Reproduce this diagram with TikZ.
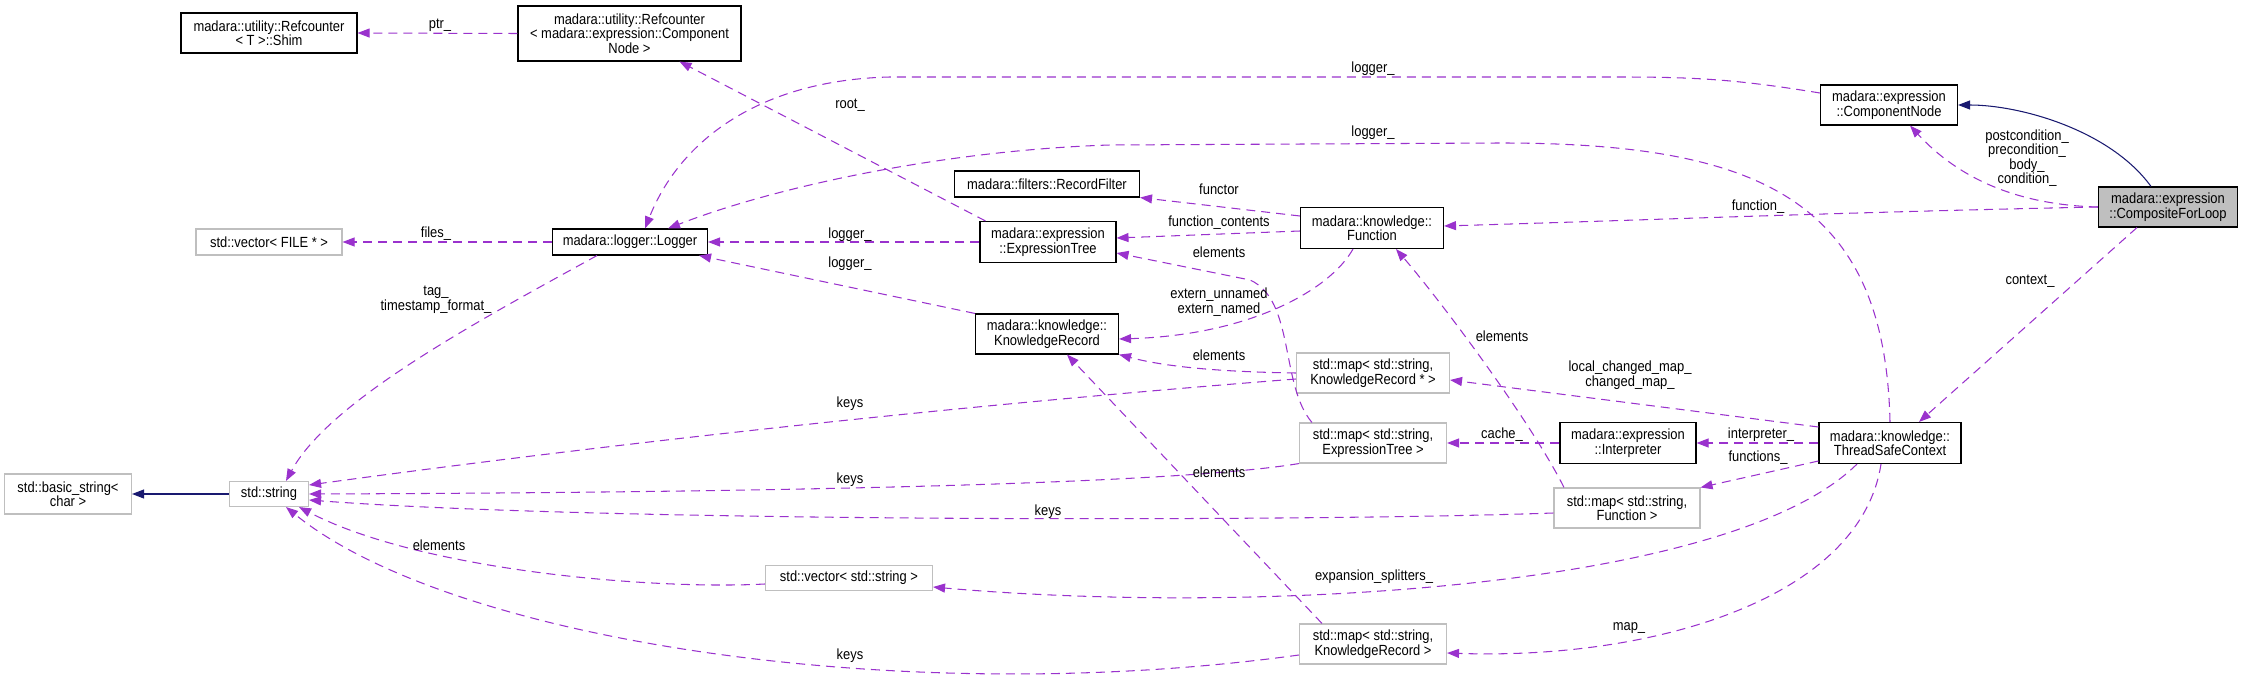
\documentclass[tikz,border=0pt]{standalone}
\usepackage{fontspec}
\setmainfont{Liberation Sans}[FakeStretch=0.88]
\usetikzlibrary{arrows.meta}

\definecolor{usecol}{HTML}{9A32CD}
\definecolor{inhcol}{HTML}{191970}
\definecolor{extcol}{HTML}{BFBFBF}

\begin{document}
\begin{tikzpicture}[x=1pt,y=-1pt,
  every node/.style={font=\fontsize{14.7}{14.5}\selectfont,align=center,inner sep=0pt},
  cls/.style={draw=black,line width=1.1pt,fill=white,minimum height=40pt},
  ext/.style={draw=extcol,line width=1.1pt,fill=white,minimum height=40pt},
  use/.style={-{Triangle[length=12pt,width=9pt]},usecol,line width=1.05pt,dash pattern=on 9pt off 6pt},
  inh/.style={-{Triangle[length=12pt,width=9pt]},inhcol,line width=1.05pt}]
  \useasboundingbox (0,0) rectangle (2244,679);

  % classes
  \node[cls,minimum width=176pt] (shim) at (269,33) {madara::utility::Refcounter\\< T >::Shim};
  \node[cls,minimum width=223pt,minimum height=55pt] (refcn) at (629.5,33.5) {madara::utility::Refcounter\\< madara::expression::Component\\Node >};
  \node[ext,minimum width=146pt,minimum height=26pt] (vecfile) at (269,242) {std::vector< FILE * >};
  \node[cls,minimum width=155pt,minimum height=26pt] (logger) at (630,242) {madara::logger::Logger};
  \node[cls,minimum width=185pt,minimum height=26pt] (rfilter) at (1047,184) {madara::filters::RecordFilter};
  \node[cls,minimum width=136pt,minimum height=41pt] (etree) at (1048,242) {madara::expression\\::ExpressionTree};
  \node[cls,minimum width=143pt,minimum height=41pt] (func) at (1372,228) {madara::knowledge::\\Function};
  \node[cls,minimum width=143pt] (krec) at (1047,334) {madara::knowledge::\\KnowledgeRecord};
  \node[cls,minimum width=137pt] (cnode) at (1889,105) {madara::expression\\::ComponentNode};
  \node[cls,fill=extcol,minimum width=139pt] (cfl) at (2168,207) {madara::expression\\::CompositeForLoop};
  \node[ext,minimum width=127pt] (bstr) at (68,494) {std::basic\_string<\\char >};
  \node[ext,minimum width=79pt,minimum height=25pt] (str) at (269,494) {std::string};
  \node[ext,minimum width=153pt] (mapkrp) at (1373,373) {std::map< std::string,\\KnowledgeRecord * >};
  \node[ext,minimum width=147pt] (mapet) at (1373,443) {std::map< std::string,\\ExpressionTree >};
  \node[ext,minimum width=167pt,minimum height=25pt] (vecstr) at (849,578) {std::vector< std::string >};
  \node[ext,minimum width=147pt] (mapkr) at (1373,644) {std::map< std::string,\\KnowledgeRecord >};
  \node[cls,minimum width=136pt,minimum height=41pt] (interp) at (1628,443) {madara::expression\\::Interpreter};
  \node[cls,minimum width=142pt,minimum height=41pt] (tsc) at (1890,443) {madara::knowledge::\\ThreadSafeContext};
  \node[ext,minimum width=146pt] (mapfn) at (1627,508) {std::map< std::string,\\Function >};

  % inheritance
  \draw[inh] ([xshift=-17pt]cfl.north) .. controls (2110,130) and (2020,105) .. (cnode.east);
  \draw[inh] (str.west) -- (bstr.east);

  % usage
  \draw[use] (refcn.west) -- (shim.east);
  \draw[use] (logger.west) -- (vecfile.east);
  \draw[use] ([xshift=-33pt]logger.south) .. controls (480,320) and (330,400) .. ([xshift=17pt]str.north);
  \draw[use] ([yshift=12pt]cnode.west) .. controls (1740,80) and (1700,77) .. (1620,77) -- (890,77)
    .. controls (760,80) and (680,140) .. ([xshift=15pt]logger.north);
  \draw[use] (tsc.north) .. controls (1885,200) and (1760,143) .. (1500,143) -- (1110,145)
    .. controls (950,150) and (780,185) .. ([xshift=38pt]logger.north);
  \draw[use] (etree.west) -- (logger.east);
  \draw[use] (krec.north west) -- ([xshift=-9pt]logger.south east);
  \draw[use] ([xshift=6pt]etree.north west) -- ([xshift=50pt]refcn.south);
  \draw[use] (cfl.west) .. controls (2020,205) and (1960,180) .. ([xshift=21pt]cnode.south);
  \draw[use] (cfl.west) .. controls (1850,212) and (1650,220) .. ([yshift=2pt]func.east);
  \draw[use] ([xshift=-31pt]cfl.south) -- ([xshift=29pt]tsc.north);
  \draw[use] ([yshift=12pt]func.west) -- (rfilter.south east);
  \draw[use] ([yshift=-3pt]func.west) -- ([yshift=4pt]etree.east);
  \draw[use] ([xshift=-19pt]func.south) .. controls (1330,290) and (1250,335) .. ([yshift=-5pt]krec.east);
  \draw[use] ([xshift=13pt]mapet.north west) .. controls (1280,385) and (1295,300) .. (1250,280)
    -- ([yshift=-11pt]etree.east);
  \draw[use] (mapkrp.west) .. controls (1230,372) and (1170,368) .. (krec.south east);
  \draw[use] ([yshift=-6pt]mapkrp.west) .. controls (900,410) and (550,452) .. ([yshift=9pt]str.east);
  \draw[use] (mapet.south west) .. controls (1200,480) and (900,492) .. (str.east);
  \draw[use] ([yshift=-5pt]mapfn.west) .. controls (1300,522) and (600,522) .. ([yshift=-6pt]str.east);
  \draw[use] ([yshift=-6pt]vecstr.west) .. controls (650,590) and (420,570) .. ([xshift=30pt]str.south);
  \draw[use] ([yshift=-11pt]mapkr.west) .. controls (900,710) and (450,640) .. ([xshift=17pt]str.south);
  \draw[use] ([xshift=-51pt]mapkr.north) -- ([xshift=20pt]krec.south);
  \draw[use] ([yshift=16pt]tsc.west) -- ([yshift=-7pt]mapkrp.east);
  \draw[use] (interp.west) -- (mapet.east);
  \draw[use] (tsc.west) -- (interp.east);
  \draw[use] ([yshift=-18pt]tsc.west) -- (mapfn.north east);
  \draw[use] ([xshift=-63pt]mapfn.north) .. controls (1530,420) and (1440,300) .. ([xshift=24pt]func.south);
  \draw[use] ([xshift=-33pt]tsc.south) .. controls (1730,590) and (1250,615) .. ([yshift=-9pt]vecstr.east);
  \draw[use] ([xshift=-9pt]tsc.south) .. controls (1860,600) and (1650,660) .. ([yshift=-9pt]mapkr.east);

  % labels
  \node (l-ptr) at (440,25) {ptr\_};
  \node (l-files) at (436,234) {files\_};
  \node (l-tag) at (436,300) {tag\_\\timestamp\_format\_};
  \node (l-root) at (850,105) {root\_};
  \node (l-log1) at (1373,69) {logger\_};
  \node (l-log2) at (1373,133) {logger\_};
  \node (l-log3) at (850,235) {logger\_};
  \node (l-log4) at (850,264) {logger\_};
  \node (l-functor) at (1219,189) {functor};
  \node (l-fcont) at (1219,223) {function\_contents};
  \node (l-elem1) at (1219,252) {elements};
  \node (l-extern) at (1219,302) {extern\_unnamed\\extern\_named};
  \node (l-elem2) at (1219,355) {elements};
  \node (l-keys1) at (850,404) {keys};
  \node (l-keys2) at (850,480) {keys};
  \node (l-elem3) at (1219,472) {elements};
  \node (l-keys3) at (1048,512) {keys};
  \node (l-expand) at (1374,577) {expansion\_splitters\_};
  \node (l-keys4) at (850,656) {keys};
  \node (l-elem4) at (439,545) {elements};
  \node (l-post) at (2027,158) {postcondition\_\\precondition\_\\body\_\\condition\_};
  \node (l-function) at (1758,207) {function\_};
  \node (l-context) at (2030,281) {context\_};
  \node (l-elem5) at (1502,336) {elements};
  \node (l-lcm) at (1630,375) {local\_changed\_map\_\\changed\_map\_};
  \node (l-cache) at (1502,435) {cache\_};
  \node (l-interp) at (1761,435) {interpreter\_};
  \node (l-functions) at (1758,458) {functions\_};
  \node (l-map) at (1629,628) {map\_};
\end{tikzpicture}
\end{document}
